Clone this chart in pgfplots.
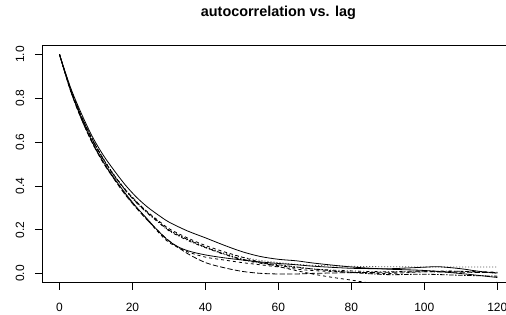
\documentclass[border=0pt]{standalone}
\usepackage{pgfplots}
\pgfplotsset{compat=1.18}
\usepackage{fontspec}
\setmainfont{Liberation Sans}
\begin{document}
\begin{tikzpicture}
\useasboundingbox (0,0) rectangle (506bp,315bp);
\begin{axis}[
  at={(42bp,32.7bp)}, anchor=south west,
  scale only axis, width=472.8bp, height=236.6bp,
  xmin=-4.8, xmax=124.8, ymin=-0.04, ymax=1.04,
  axis line style={line width=0.75bp},
  xtick={0,20,...,120}, ytick={0,0.2,...,1.0},
  yticklabels={0.0,0.2,0.4,0.6,0.8,1.0},
  xtick pos=bottom, ytick pos=left,
  tick align=outside, major tick length=7.2bp,
  tick style={line width=0.75bp, black},
  /pgf/number format/assume math mode=true,
  ticklabel style={font=\fontsize{12bp}{14bp}\selectfont},
  xticklabel style={anchor=base, inner sep=0pt},
  yticklabel style={rotate=90, anchor=base, inner sep=0pt},
  xticklabel shift=22.2bp, yticklabel shift=10.8bp,
  title={autocorrelation vs. lag},
  title style={font=\fontsize{14.4bp}{16bp}\selectfont\bfseries, at={(0.5,1)}, anchor=base, yshift=23.4bp, inner sep=0pt},
  every axis plot/.append style={line width=0.8bp, black, smooth, tension=0.5},
]
% solid upper
\addplot[solid] coordinates {(0,1) (3,0.85) (6,0.73) (9,0.625) (12,0.54) (15,0.47) (18,0.405) (21,0.35) (24,0.305) (27,0.268) (30,0.235) (35,0.195) (40,0.163) (45,0.13) (50,0.10) (55,0.078) (60,0.065) (65,0.058) (70,0.047) (80,0.03) (90,0.02) (100,0.014) (110,0.0) (120,-0.018)};
% dashed (goes below)
\addplot[dash pattern=on 3bp off 3bp] coordinates {(0,1) (3,0.845) (6,0.718) (9,0.612) (12,0.523) (15,0.448) (18,0.384) (21,0.33) (24,0.283) (27,0.243) (30,0.205) (35,0.163) (40,0.128) (45,0.1) (50,0.075) (55,0.052) (60,0.032) (65,0.013) (70,-0.004) (75,-0.018) (80,-0.03) (85,-0.043) (90,-0.05) (100,-0.05) (110,-0.045) (120,-0.04)};
% dotted
\addplot[dash pattern=on 0.75bp off 2.25bp] coordinates {(0,1) (3,0.845) (6,0.72) (9,0.615) (12,0.525) (15,0.45) (18,0.385) (21,0.33) (24,0.282) (27,0.24) (30,0.2) (35,0.158) (40,0.122) (45,0.095) (50,0.075) (55,0.06) (60,0.05) (65,0.042) (70,0.037) (80,0.033) (90,0.031) (100,0.03) (110,0.03) (120,0.03)};
% dotdash
\addplot[dash pattern=on 0.75bp off 2.25bp on 3bp off 2.25bp] coordinates {(0,1) (3,0.84) (6,0.715) (9,0.61) (12,0.52) (15,0.445) (18,0.38) (21,0.325) (24,0.277) (27,0.235) (30,0.195) (35,0.152) (40,0.118) (45,0.088) (50,0.063) (55,0.047) (60,0.036) (65,0.027) (70,0.02) (80,0.012) (90,0.008) (100,0.012) (110,0.01) (120,0.002)};
% longdash lowest
\addplot[dash pattern=on 5.25bp off 2.25bp] coordinates {(0,1) (3,0.835) (6,0.705) (9,0.595) (12,0.505) (15,0.43) (18,0.36) (21,0.3) (24,0.245) (27,0.195) (30,0.15) (35,0.092) (40,0.05) (45,0.027) (50,0.01) (55,0.001) (60,-0.002) (65,-0.002) (70,0.001) (80,0.004) (90,0.006) (100,0.008) (110,0.006) (120,0.004)};
% twodash
\addplot[dash pattern=on 1.5bp off 1.5bp on 4.5bp off 1.5bp] coordinates {(0,1) (3,0.842) (6,0.716) (9,0.612) (12,0.523) (15,0.447) (18,0.382) (21,0.327) (24,0.279) (27,0.238) (30,0.198) (35,0.156) (40,0.12) (45,0.09) (50,0.066) (55,0.05) (60,0.04) (65,0.03) (70,0.02) (80,0.005) (90,-0.005) (100,-0.003) (110,-0.008) (120,-0.012)};
% solid lower
\addplot[solid] coordinates {(0,1) (3,0.838) (6,0.708) (9,0.6) (12,0.51) (15,0.435) (18,0.367) (21,0.305) (24,0.25) (27,0.195) (30,0.148) (33,0.118) (36,0.1) (40,0.085) (45,0.072) (50,0.062) (55,0.053) (60,0.046) (65,0.04) (70,0.033) (80,0.024) (90,0.022) (95,0.025) (100,0.029) (104,0.031) (110,0.022) (115,0.01) (120,0.002)};
% dashed lower
\addplot[dash pattern=on 3bp off 3bp] coordinates {(0,1) (3,0.836) (6,0.706) (9,0.598) (12,0.507) (15,0.432) (18,0.363) (21,0.302) (24,0.247) (27,0.19) (30,0.142) (35,0.1) (40,0.075) (45,0.062) (50,0.05) (55,0.04) (60,0.03) (65,0.02) (70,0.013) (80,0.006) (90,0.0) (100,0.008) (110,0.01) (120,0.006)};
\end{axis}
\end{tikzpicture}
\end{document}
